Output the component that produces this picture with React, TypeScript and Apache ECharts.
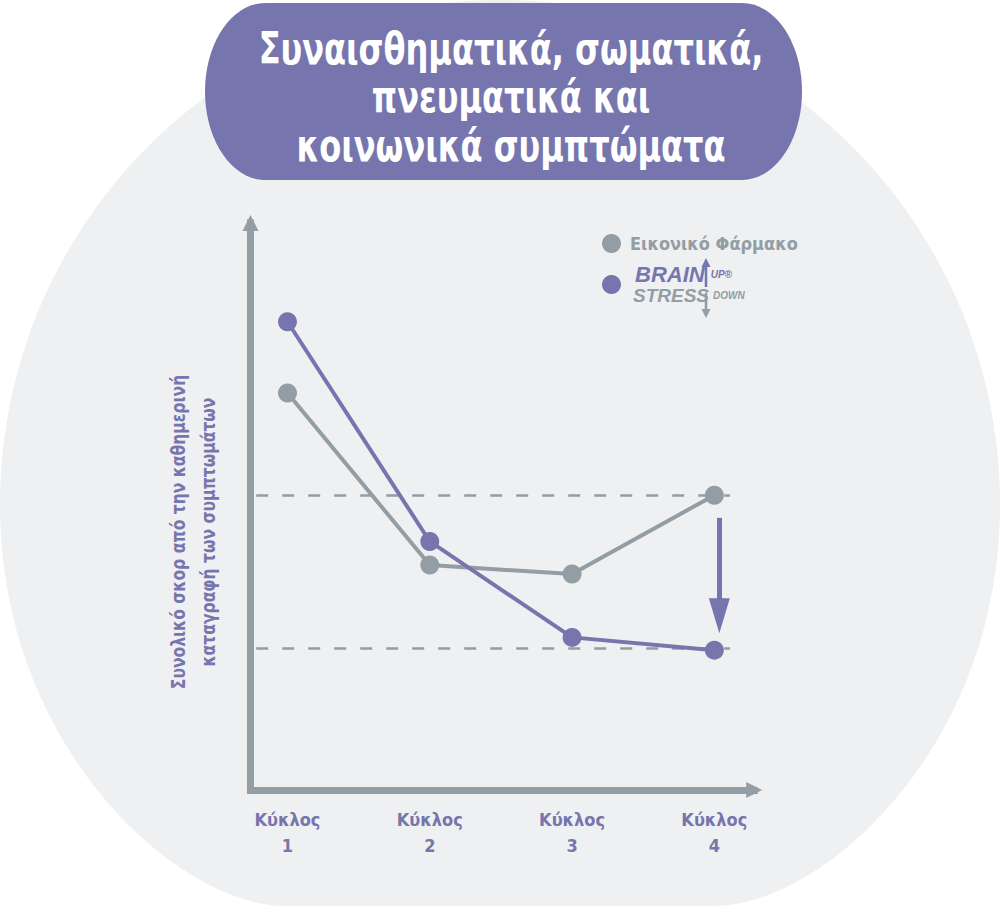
import React, { useEffect, useRef } from "react";
import * as echarts from "echarts";

// ---------- data ----------
const cycles = [1, 2, 3, 4];
const cycleLabel = "Κύκλος";
const placeboName = "Εικονικό Φάρμακο";
const brainName = "BRAIN UP STRESS DOWN";
const placeboScores = [84.0, 47.6, 45.7, 62.4];
const brainScores = [99.1, 52.6, 32.3, 29.6];
const referenceLevels = [62.4, 30.0];
const referenceSpan = [0.78, 4.11];
const dropArrow = { x: 4.035, from: 57.6, to: 36.9 };
const titleLines = ["Συναισθηματικά, σωματικά,", "πνευματικά και", "κοινωνικά συμπτώματα"];
const yAxisLines = ["Συνολικό σκορ από την καθημερινή", "καταγραφή των συμπτωμάτων"];

// ---------- style ----------
const PURPLE = "#7775ad";
const GRAY = "#939da4";
const BG = "#eef0f2";
const NARROW = '"DejaVu Sans Condensed", "DejaVu Sans", sans-serif';
const LOGO = '"Liberation Sans", "DejaVu Sans", sans-serif';

const BLOB_D =
  "M 0 505 C 0 226, 224 0, 500 0 C 776 0, 1000 226, 1000 505 C 1000 750, 820 906, 715 906 L 285 906 C 180 906, 0 750, 0 505 Z";
const BOX_D =
  "M 265 3 L 742 3 C 775.1 3, 802 42.6, 802 91.5 C 802 140.4, 775.1 180, 742 180 L 265 180 C 231.9 180, 205 140.4, 205 91.5 C 205 42.6, 231.9 3, 265 3 Z";

let registered = false;
function registerShapes() {
  if (registered) return;
  registered = true;
  echarts.graphic.registerShape("bgBlob", echarts.graphic.extendPath(BLOB_D, {}) as any);
  echarts.graphic.registerShape("titleBox", echarts.graphic.extendPath(BOX_D, {}) as any);
}

export default function App() {
  const ref = useRef<HTMLDivElement>(null);

  useEffect(() => {
    if (!ref.current) return;
    registerShapes();
    const chart = echarts.init(ref.current, undefined, { renderer: "svg" });

    const option: any = {
      animation: false,
      backgroundColor: "#ffffff",
      textStyle: { fontFamily: NARROW },
      legend: {
        orient: "vertical",
        left: 602,
        top: 234,
        padding: 0,
        itemGap: 10,
        itemWidth: 19,
        itemHeight: 19,
        icon: "circle",
        selectedMode: false,
        data: [placeboName, brainName],
        formatter: (name: string) =>
          name === placeboName ? `{g|${name}}` : `{b|BRAIN}{u|UP®}\n{s|STRESS}{d|DOWN}`,
        textStyle: {
          rich: {
            g: { fontFamily: NARROW, fontSize: 18, fontWeight: "bold", color: GRAY, lineHeight: 20, padding: [0, 0, 0, 4] },
            b: { fontFamily: LOGO, fontSize: 22, fontWeight: "bold", fontStyle: "italic", color: PURPLE, lineHeight: 21, padding: [0, 0, 0, 9] },
            u: { fontFamily: LOGO, fontSize: 10, fontWeight: "bold", fontStyle: "italic", color: PURPLE, lineHeight: 21, padding: [0, 0, 0, 6] },
            s: { fontFamily: LOGO, fontSize: 19, fontWeight: "bold", fontStyle: "italic", color: GRAY, lineHeight: 21, padding: [0, 0, 0, 7] },
            d: { fontFamily: LOGO, fontSize: 10, fontWeight: "bold", fontStyle: "italic", color: GRAY, lineHeight: 21, padding: [0, 0, 0, 4] },
          },
        },
      },
      grid: { left: 250.5, right: 245.8, top: 223, bottom: 116, containLabel: false },
      xAxis: {
        type: "value",
        min: 0.74,
        max: 4.28,
        splitLine: { show: false },
        axisTick: { show: false },
        axisLine: {
          show: true,
          onZero: false,
          symbol: ["none", "triangle"],
          symbolSize: [16, 16],
          lineStyle: { color: GRAY, width: 7, cap: "square" },
        },
        axisLabel: {
          customValues: cycles,
          margin: 16,
          color: PURPLE,
          fontFamily: NARROW,
          fontWeight: "bold",
          fontSize: 18,
          lineHeight: 26,
          formatter: (v: number) => (cycles.includes(v) ? `${cycleLabel}\n${v}` : ""),
        },
      },
      yAxis: {
        type: "value",
        min: 0,
        max: 120,
        splitLine: { show: false },
        axisTick: { show: false },
        axisLabel: { show: false },
        axisLine: {
          show: true,
          onZero: false,
          symbol: ["none", "triangle"],
          symbolSize: [16, 16],
          lineStyle: { color: GRAY, width: 7, cap: "square" },
        },
      },
      graphic: [
        { type: "bgBlob", x: 0, y: 0, z: -2, silent: true, style: { fill: BG } },
        { type: "titleBox", x: 0, y: 0, z: -1, silent: true, style: { fill: PURPLE } },
        {
          type: "text",
          x: 511,
          y: 97,
          scaleX: 0.81,
          z: 10,
          silent: true,
          style: {
            text: titleLines.join("\n"),
            fill: "#ffffff",
            fontFamily: NARROW,
            fontSize: 44,
            fontWeight: "bold",
            lineHeight: 48.5,
            align: "center",
            verticalAlign: "middle",
          },
        },
        {
          type: "text",
          x: 193,
          y: 532,
          rotation: Math.PI / 2,
          scaleX: 0.865,
          z: 10,
          silent: true,
          style: {
            text: yAxisLines.join("\n"),
            fill: PURPLE,
            fontFamily: NARROW,
            fontSize: 20,
            fontWeight: "bold",
            lineHeight: 30,
            align: "center",
            verticalAlign: "middle",
          },
        },
        // logo arrows in legend
        { type: "line", z: 10, silent: true, shape: { x1: 706, y1: 287, x2: 706, y2: 266 }, style: { stroke: PURPLE, lineWidth: 2.5 } },
        { type: "polygon", z: 10, silent: true, shape: { points: [[706, 258], [710.5, 267], [701.5, 267]] }, style: { fill: PURPLE } },
        { type: "line", z: 10, silent: true, shape: { x1: 706, y1: 293, x2: 706, y2: 310 }, style: { stroke: GRAY, lineWidth: 2.5 } },
        { type: "polygon", z: 10, silent: true, shape: { points: [[706, 318], [710.5, 309], [701.5, 309]] }, style: { fill: GRAY } },
      ],
      series: [
        {
          name: placeboName,
          type: "line",
          data: cycles.map((c, i) => [c, placeboScores[i]]),
          symbol: "circle",
          symbolSize: 19,
          color: GRAY,
          itemStyle: { color: GRAY },
          lineStyle: { color: GRAY, width: 4 },
          z: 3,
          markLine: {
            silent: true,
            symbol: ["none", "none"],
            z: 1,
            label: { show: false },
            lineStyle: { color: GRAY, width: 2.5, type: [12, 14] },
            data: referenceLevels.map((lv) => [
              { coord: [referenceSpan[0], lv] },
              { coord: [referenceSpan[1], lv] },
            ]),
          },
        },
        {
          name: brainName,
          type: "line",
          data: cycles.map((c, i) => [c, brainScores[i]]),
          symbol: "circle",
          symbolSize: 19,
          color: PURPLE,
          itemStyle: { color: PURPLE },
          lineStyle: { color: PURPLE, width: 4 },
          z: 4,
          markLine: {
            silent: true,
            symbol: ["none", "triangle"],
            symbolSize: [21, 35],
            z: 5,
            label: { show: false },
            lineStyle: { color: PURPLE, width: 5, type: "solid" },
            data: [[{ coord: [dropArrow.x, dropArrow.from] }, { coord: [dropArrow.x, dropArrow.to] }]],
          },
        },
      ],
    };

    chart.setOption(option);
    return () => chart.dispose();
  }, []);

  return (
    <div
      ref={ref}
      style={{ position: "fixed", left: 0, top: 0, width: 1000, height: 906, background: "#fff" }}
    />
  );
}
